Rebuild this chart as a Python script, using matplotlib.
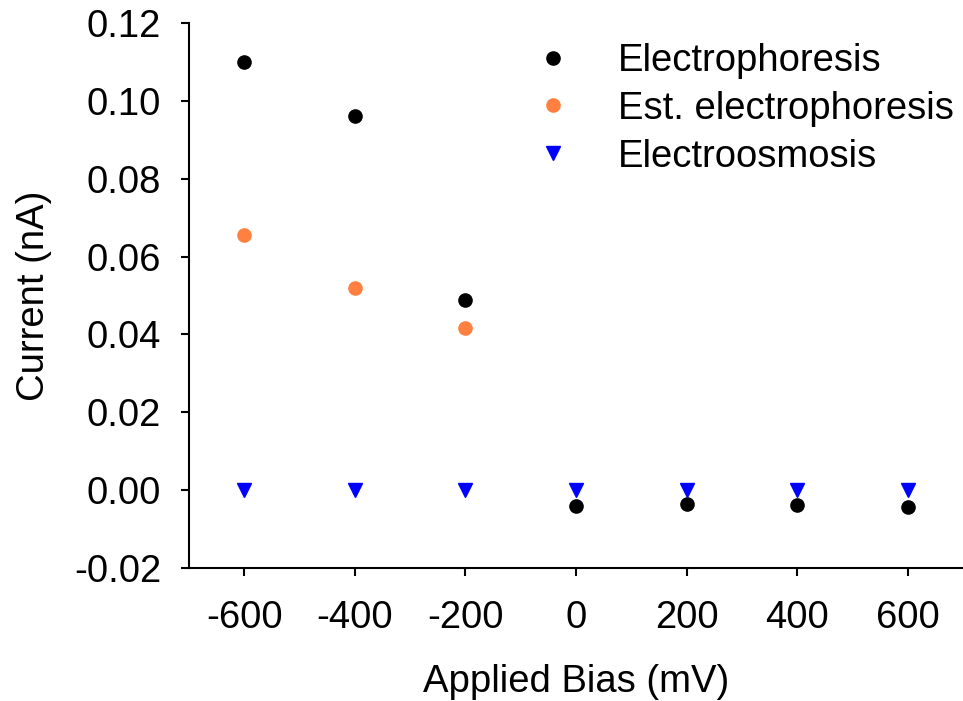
import matplotlib
matplotlib.use("Agg")
import matplotlib.pyplot as plt
from matplotlib.lines import Line2D

plt.rcParams['font.family'] = ['Liberation Sans', 'DejaVu Sans']

bias = [-600, -400, -200, 0, 200, 400, 600]
electrophoresis = [0.1099, 0.0961, 0.0488, -0.0041, -0.0036, -0.0039, -0.0043]
est_bias = [-600, -400, -200]
est_electrophoresis = [0.0655, 0.0519, 0.0416]
electroosmosis = [0.0, 0.0, 0.0, 0.0, 0.0, 0.0, 0.0]

FS = 27.5

fig = plt.figure(figsize=(9.63, 7.01), dpi=100)
ax = fig.add_axes([189/963, 1-568/701, 1-189/963, (568-23)/701])

ax.plot(bias, electrophoresis, 'o', color='black', markersize=9.5, linestyle='none')
ax.plot(est_bias, est_electrophoresis, 'o', color='#FF8040', markersize=9.5, linestyle='none')
ax.plot(bias, electroosmosis, 'v', color='#0000FF', markersize=9.5, linestyle='none')

ax.set_xlim(-700, 700)
ax.set_ylim(-0.02, 0.12)
ax.set_xticks(bias)
ax.set_xticklabels([str(b) for b in bias])
yt = [-0.02, 0.0, 0.02, 0.04, 0.06, 0.08, 0.10, 0.12]
ax.set_yticks(yt)
ax.set_yticklabels(['%.2f' % v for v in yt])

for s in ['top', 'right']:
    ax.spines[s].set_visible(False)
for s in ['left', 'bottom']:
    ax.spines[s].set_linewidth(1.5)
ax.tick_params(axis='both', direction='out', length=6, width=1.5, labelsize=FS)
ax.tick_params(axis='y', pad=14)
ax.tick_params(axis='x', pad=17)

ax.set_xlabel('Applied Bias (mV)', fontsize=FS, labelpad=20)
ax.set_ylabel('Current (nA)', fontsize=FS, labelpad=16)

handles = [
    Line2D([], [], marker='o', color='black', linestyle='none', markersize=9.5),
    Line2D([], [], marker='o', color='#FF8040', linestyle='none', markersize=9.5),
    Line2D([], [], marker='v', color='#0000FF', linestyle='none', markersize=9.5),
]
labels = ['Electrophoresis', 'Est. electrophoresis', 'Electroosmosis']
leg = ax.legend(handles, labels, loc='upper left', bbox_to_anchor=(534/963, 1-43/701),
                bbox_transform=fig.transFigure, frameon=False, fontsize=FS,
                handlelength=1.0, handletextpad=1.2, labelspacing=0.31,
                borderaxespad=0, borderpad=0)

fig.savefig('out.png', dpi=100)
